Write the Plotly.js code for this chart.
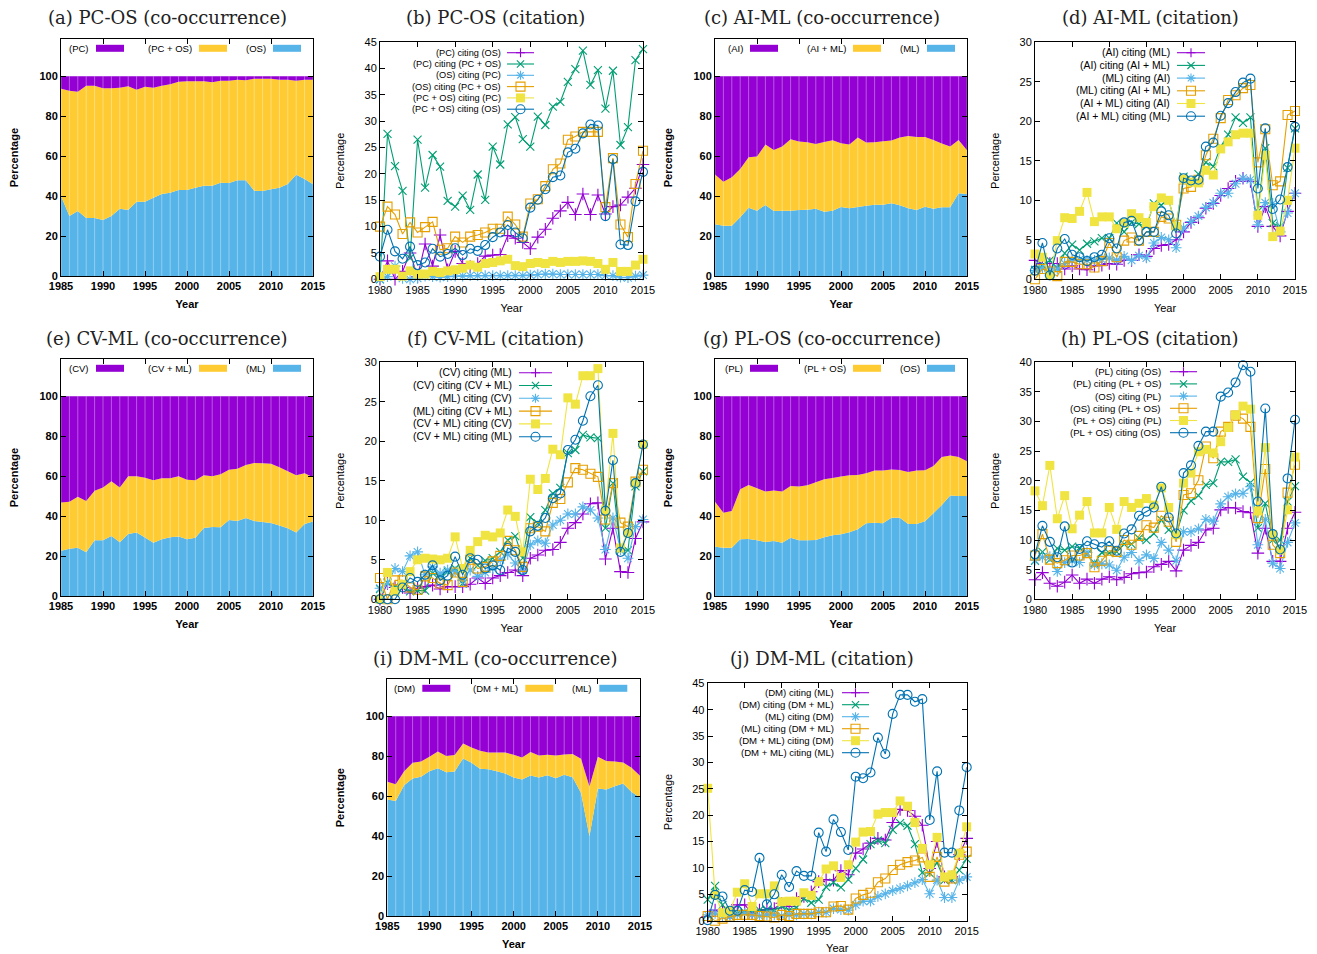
<!DOCTYPE html>
<html><head><meta charset="utf-8">
<script src="https://cdn.plot.ly/plotly-3.0.1.min.js"></script>
<style>html,body{margin:0;padding:0;background:#fff}</style>
</head><body><div id="chart" style="width:1317px;height:954px"></div>
<script>
// ---------------- categories / ticks ----------------
const coYears = [1985,1986,1987,1988,1989,1990,1991,1992,1993,1994,1995,1996,1997,1998,1999,2000,2001,2002,2003,2004,2005,2006,2007,2008,2009,2010,2011,2012,2013,2014,2015];
const citeYears = [1980,1981,1982,1983,1984,1985,1986,1987,1988,1989,1990,1991,1992,1993,1994,1995,1996,1997,1998,1999,2000,2001,2002,2003,2004,2005,2006,2007,2008,2009,2010,2011,2012,2013,2014,2015];
const coXTicks = [1985,1990,1995,2000,2005,2010,2015];
const citeXTicks = [1980,1985,1990,1995,2000,2005,2010,2015];
const coYTicks = [0,20,40,60,80,100];
const yTicks45 = [0,5,10,15,20,25,30,35,40,45];
const yTicks30 = [0,5,10,15,20,25,30];
const yTicks40 = [0,5,10,15,20,25,30,35,40];

// ---------------- (a) PC-OS co-occurrence ----------------
const a_names = ['(PC)','(PC + OS)','(OS)'];
const a_pc   = [6.2,7.2,7.7,4.8,4.7,6,6,5.8,5,6.7,5.3,5.8,4.7,4,2.8,2.5,2.5,2.5,3,2.3,2.2,1.8,2,1.3,1.3,1.3,1.7,1.8,2.2,1.8,1.8];
const a_both = [53.8,62.8,59.8,66.2,66.3,66,64,60.5,62,56.1,57.5,55,54.3,54.3,54.2,54.5,53.3,52.3,51.8,51,51.3,50.3,50.1,56,56.2,55.3,54.1,52.2,47.1,49.7,52.3];
const a_os   = [40,30,32.5,29,29,28,30,33.7,33,37.2,37.2,39.2,41,41.7,43,43,44.2,45.2,45.2,46.7,46.5,47.9,47.9,42.7,42.5,43.4,44.2,46,50.7,48.5,45.9];

// ---------------- (c) AI-ML co-occurrence ----------------
const c_names = ['(AI)','(AI + ML)','(ML)'];
const c_ai   = [49.2,52.8,50.6,46.4,40.6,40.2,34.2,36.9,35.2,31.6,32.7,33.1,33.9,32.9,32.1,33.6,34.2,30.6,33.2,33.1,32.6,32.2,30.7,29.9,30.4,30.4,31.9,33.7,35.2,31.9,37.1];
const c_both = [24.9,22.0,24.2,24.2,25.2,27.1,30.2,30.5,32.1,35.7,34.3,33.7,32.4,34.9,35.2,31.8,31.9,34.8,31.6,31.2,31.7,31.4,33.9,36.2,36.6,34.9,34.4,31.9,30.4,26.7,21.8];
const c_ml   = [25.9,25.2,25.2,29.4,34.2,32.7,35.6,32.6,32.7,32.7,33.0,33.2,33.7,32.2,32.7,34.6,33.9,34.6,35.2,35.7,35.7,36.4,35.4,33.9,33.0,34.7,33.7,34.4,34.4,41.4,41.1];

// ---------------- (e) CV-ML co-occurrence ----------------
const e_names = ['(CV)','(CV + ML)','(ML)'];
const e_cv   = [53.2,52.8,50.3,52.5,47.3,45.7,42.5,45.7,40.1,40.1,40.8,42.1,41.1,41.0,40.1,41.8,42.0,39.5,40.0,39.0,36.8,36.3,34.4,33.4,33.6,33.8,35.6,37.5,39.5,38.6,40.6];
const e_both = [24.1,23.5,25.6,25.6,24.8,26.4,27.4,27.4,28.8,28.1,29.9,31.3,30.5,29.6,30.1,29.8,28.9,26.4,25.4,26.6,25.1,26.1,26.6,29.0,29.4,29.6,29.1,28.6,28.7,25.3,22.1];
const e_ml   = [22.7,23.7,24.1,21.9,27.9,27.9,30.1,26.9,31.1,31.8,29.3,26.6,28.4,29.4,29.8,28.4,29.1,34.1,34.6,34.4,38.1,37.6,39.0,37.6,37.0,36.6,35.3,33.9,31.8,36.1,37.3];

// ---------------- (g) PL-OS co-occurrence ----------------
const g_names = ['(PL)','(PL + OS)','(OS)'];
const g_pl   = [52.8,58.3,57.4,46.6,44.4,46.1,47.7,47.2,47.7,44.9,45.2,44.6,43.1,41.6,40.9,40.2,39.6,39.4,38.6,37.2,37.2,36.7,36.9,37.9,37.2,37.1,34.9,30.4,29.7,30.4,32.6];
const g_both = [22.5,17.5,18.4,25.0,27.1,26.0,25.3,25.3,25.6,25.9,26.9,27.5,28.9,29.0,28.7,28.9,28.5,27.2,25.0,26.1,26.4,24.1,23.9,26.0,26.7,25.5,23.7,24.0,20.0,19.5,17.3];
const g_os   = [24.7,24.2,24.2,28.4,28.5,27.9,27.0,27.5,26.7,29.2,27.9,27.9,28.0,29.4,30.4,30.9,31.9,33.4,36.4,36.7,36.4,39.2,39.2,36.1,36.1,37.4,41.4,45.6,50.3,50.1,50.1];

// ---------------- (i) DM-ML co-occurrence ----------------
const i_names = ['(DM)','(DM + ML)','(ML)'];
const i_dm   = [32.8,34.0,27.5,23.3,22.6,20.3,17.6,19.9,19.4,13.6,15.7,17.3,18.1,18.1,18.1,19.3,20.6,17.9,19.6,19.3,19.6,19.1,18.9,21.3,35.2,20.3,22.4,22.6,23.1,25.8,29.8];
const i_both = [8.9,8.4,7.0,7.9,7.7,7.2,8.4,8.1,8.2,7.5,7.6,9.0,8.4,9.4,10.5,11.4,11.1,11.7,11.1,10.2,11.4,10.2,11.6,17.1,24.9,15.9,14.3,12.4,10.6,12.1,10.9];
const i_ml   = [58.3,57.6,65.5,68.8,69.7,72.5,74.0,72.0,72.4,78.9,76.7,73.7,73.5,72.5,71.4,69.3,68.3,70.4,69.3,70.5,69.0,70.7,69.5,61.6,39.9,63.8,63.3,65.0,66.3,62.1,59.3];

// ---------------- (b) PC-OS citation ----------------
const b_names = ['(PC) citing (OS)','(PC) citing (PC + OS)','(OS) citing (PC)','(OS) citing (PC + OS)','(PC + OS) citing (PC)','(PC + OS) citing (OS)'];
const b_pc_os     = [0,3.5,0,1.5,5.0,0.5,6.7,2.5,8.4,1.8,5.3,3.0,2.4,3.0,4.4,4.6,4.7,8.3,7.8,7.0,5.8,8.0,9.5,11.6,13.0,14.6,12.3,16.2,12.3,16.0,12.4,13.8,14.1,15.6,17.3,21.8];
const b_pc_both   = [0,27.6,21.5,16.8,4.0,26.5,17.4,23.6,21.4,14.9,13.8,15.9,13.2,19.9,15.1,25.2,21.8,29.4,30.8,26.6,25.2,30.9,29.3,32.8,33.7,37.5,39.9,43.4,36.9,39.7,32.4,39.6,25.5,28.9,41.6,43.7];
const b_os_pc     = [0,0.5,2.5,0.2,0,0.2,0.6,0.5,0.4,0.5,0.6,0.6,0.7,0.7,0.7,0.7,0.7,0.7,0.7,0.7,0.8,0.9,1.0,1.0,0.9,0.9,0.9,0.9,0.9,0.9,0.7,0.7,0.4,0.3,0.6,0.8];
const b_os_both   = [10.0,13.8,12.3,8.6,10.8,8.9,9.9,10.9,5.6,5.9,8.1,7.0,8.1,8.4,8.9,9.6,9.6,11.9,10.4,8.1,14.4,15.2,17.7,20.9,22.0,26.5,27.1,28.0,28.0,28.0,13.7,23.0,10.4,8.0,18.1,24.4];
const b_both_pc   = [0.5,1.9,1.9,0.6,1.6,1.0,1.0,1.5,1.3,1.6,1.8,2.1,2.7,2.3,3.0,3.2,3.5,3.8,2.6,2.4,3.0,3.2,3.0,3.4,3.2,3.4,3.4,3.5,3.4,3.0,1.9,3.2,1.5,1.5,2.7,3.8];
const b_both_os   = [4.3,9.4,5.3,3.9,6.2,2.7,3.2,5.8,4.3,4.8,5.9,4.6,5.8,5.4,6.5,8.0,8.9,10.3,8.9,7.8,13.6,15.1,17.1,19.4,19.7,24.1,24.8,27.7,29.4,29.2,12.0,22.8,6.6,6.5,14.8,20.4];

// ---------------- (d) AI-ML citation ----------------
const d_names = ['(AI) citing (ML)','(AI) citing (AI + ML)','(ML) citing (AI)','(ML) citing (AI + ML)','(AI + ML) citing (AI)','(AI + ML) citing (ML)'];
const d_ai_ml     = [2.4,2.0,2.0,2.0,1.3,1.7,1.3,1.2,1.7,1.8,2.0,1.9,2.4,2.4,3.1,2.9,3.9,4.3,4.4,5.0,6.0,7.2,7.8,9.0,9.6,10.6,11.5,12.4,12.8,12.4,6.7,9.2,6.7,5.5,8.6,10.9];
const d_ai_both   = [1.2,1.8,2.4,1.4,3.3,4.4,3.7,4.5,4.8,5.2,5.2,7.1,6.0,7.2,7.0,6.7,9.6,9.4,10.0,6.7,13.0,12.6,13.3,14.8,14.3,16.8,18.3,20.5,19.8,20.5,8.6,16.6,7.1,6.7,14.1,19.1];
const d_ml_ai     = [1.1,1.4,1.0,1.3,2.0,2.4,2.5,2.4,2.4,2.5,2.7,2.4,2.9,2.4,3.0,2.7,4.6,5.3,5.0,4.0,6.5,7.3,8.0,9.1,9.7,10.9,10.9,12.1,12.8,12.6,6.9,9.7,9.6,6.0,8.4,10.9];
const d_ml_both   = [0,1.3,1.0,0.4,2.2,2.2,1.9,1.9,1.5,2.3,4.6,2.8,4.9,5.3,4.9,6.0,6.0,7.9,7.7,6.9,11.5,11.7,12.6,15.7,17.8,20.4,22.7,23.3,24.2,24.6,14.8,19.0,11.9,12.4,20.8,21.3];
const d_both_ai   = [3.2,2.8,0.5,4.9,7.8,7.7,8.6,11.0,7.3,7.9,7.9,6.4,7.1,8.3,7.8,7.2,9.2,10.3,10.0,6.7,12.7,12.3,12.2,13.8,13.2,16.5,17.4,18.3,18.5,18.5,8.1,15.7,5.4,6.1,10.0,16.6];
const d_both_ml   = [1.1,4.6,0.5,3.9,5.1,3.1,2.8,2.3,2.8,3.1,5.2,3.9,7.2,7.4,4.9,6.0,6.0,8.6,8.1,5.8,12.8,12.5,12.6,16.8,17.3,20.7,22.3,23.7,24.9,25.4,11.5,19.1,8.9,10.1,14.2,19.3];

// ---------------- (f) CV-ML citation ----------------
const f_names = ['(CV) citing (ML)','(CV) citing (CV + ML)','(ML) citing (CV)','(ML) citing (CV + ML)','(CV + ML) citing (CV)','(CV + ML) citing (ML)'];
const f_cv_ml     = [0,2.0,1.5,1.5,0.8,1.4,1.6,1.8,1.3,1.6,1.6,1.6,1.9,2.7,2.0,2.7,3.0,3.4,3.7,3.0,5.2,5.6,6.2,6.3,7.2,9.0,9.7,10.8,12.1,12.2,5.1,9.0,3.5,3.4,7.7,9.8];
const f_cv_both   = [1.3,2.1,1.6,1.5,1.0,1.1,1.1,3.3,3.0,3.5,3.9,2.0,5.2,4.3,4.9,5.2,6.0,7.5,8.0,5.2,10.4,9.6,11.3,13.4,14.1,18.5,18.9,20.8,20.5,20.4,9.0,14.7,6.2,6.2,14.3,16.2];
const f_ml_cv     = [1.4,2.0,3.9,3.5,5.5,6.0,3.1,4.1,3.3,3.7,3.5,2.4,3.7,2.9,3.4,3.9,5.0,5.7,4.6,3.7,6.9,7.4,7.1,9.4,10.0,10.8,10.8,11.7,11.3,10.3,6.3,10.3,6.3,5.2,9.2,10.1];
const f_ml_both   = [2.7,0,2.4,2.4,1.5,1.2,2.9,2.7,2.0,1.8,3.4,2.2,5.0,3.9,4.1,4.8,5.5,7.4,6.2,4.1,9.0,9.2,8.6,12.2,12.7,14.8,16.6,16.4,15.9,15.5,10.1,14.7,9.7,9.2,14.9,16.4];
const f_both_cv   = [0,3.4,1.0,1.9,3.5,5.0,5.2,5.1,5.0,5.2,7.9,3.9,6.2,7.3,8.1,7.9,8.4,11.3,10.5,6.0,15.2,13.9,15.3,19.0,18.3,25.5,24.7,28.3,28.3,29.2,11.3,21.0,6.5,8.4,14.7,19.6];
const f_both_ml   = [0,0,0,1.5,2.7,2.2,3.1,4.3,2.4,3.0,5.4,3.1,5.2,5.0,3.9,4.3,3.7,6.5,6.0,3.7,8.6,9.3,10.3,12.8,13.4,18.9,20.2,22.6,25.7,27.1,11.2,17.6,6.0,8.4,14.7,19.6];

// ---------------- (h) PL-OS citation ----------------
const h_names = ['(PL) citing (OS)','(PL) citing (PL + OS)','(OS) citing (PL)','(OS) citing (PL + OS)','(PL + OS) citing (PL)','(PL + OS) citing (OS)'];
const h_pl_os     = [3.3,4.5,2.7,2.2,2.9,4.1,2.7,3.4,2.7,3.4,3.8,3.3,3.7,4.3,4.5,4.6,5.5,5.9,6.4,4.8,8.3,9.1,9.6,11.7,12.0,15.1,15.5,15.4,14.8,14.6,7.8,12.0,6.4,6.4,12.0,14.7];
const h_pl_both   = [6.5,8.0,6.7,8.6,8.3,8.9,8.7,7.6,6.1,7.9,7.8,8.0,9.3,9.3,10.3,10.0,11.1,13.4,11.7,10.9,15.0,16.6,17.5,19.3,19.6,23.2,23.2,23.6,20.7,19.7,12.0,16.2,10.0,10.0,16.5,19.1];
const h_os_pl     = [6.6,7.1,7.2,4.7,6.2,6.5,6.2,7.9,5.8,6.0,5.8,4.9,7.1,7.9,6.5,7.5,6.9,9.6,8.3,6.5,11.4,11.4,11.9,13.5,13.2,16.1,17.3,17.8,17.9,19.0,9.2,13.5,6.1,5.2,9.6,12.9];
const h_os_both   = [7.4,11.0,6.7,6.1,6.6,7.4,7.4,7.8,5.4,6.5,8.2,8.0,10.0,9.2,10.7,12.5,12.1,14.1,13.1,9.7,17.6,17.9,20.1,25.8,23.8,28.3,29.1,31.0,30.5,29.1,13.7,22.0,9.2,7.8,18.0,22.7];
const h_both_pl   = [18.3,15.8,22.6,13.6,17.5,11.9,14.2,16.5,11.2,11.2,15.5,11.8,16.5,15.5,16.2,17.0,15.9,18.8,15.5,10.9,19.6,21.3,24.9,25.3,24.7,26.6,29.0,31.1,32.6,32.1,14.9,25.6,10.9,8.3,15.1,24.0];
const h_both_os   = [7.6,12.4,9.7,7.1,12.3,6.2,8.5,9.8,9.3,8.8,9.8,8.2,11.1,11.8,14.1,14.8,15.5,19.0,13.8,11.1,21.3,22.6,25.9,28.3,28.3,34.2,34.9,36.6,39.5,38.4,16.5,32.2,11.0,8.4,20.4,30.3];

// ---------------- (j) DM-ML citation ----------------
const j_names = ['(DM) citing (ML)','(DM) citing (DM + ML)','(ML) citing (DM)','(ML) citing (DM + ML)','(DM + ML) citing (DM)','(DM + ML) citing (ML)'];
const j_dm_ml     = [0.8,2.0,1.7,1.4,3.0,3.0,1.4,2.0,2.1,2.3,3.3,2.7,4.2,4.6,5.5,7.4,7.8,7.7,9.5,8.7,12.8,13.6,14.7,15.6,15.3,18.6,21.1,20.9,19.8,18.1,9.9,15.0,8.3,8.3,12.5,15.6];
const j_dm_both   = [4.0,6.6,3.0,0.8,1.4,1.6,1.9,2.0,2.1,2.0,2.7,2.0,2.5,4.2,3.4,4.0,6.4,7.2,6.3,7.8,9.9,11.6,14.5,15.2,14.7,17.2,18.5,18.0,14.5,9.1,9.0,11.0,7.7,7.7,9.6,11.7];
const j_ml_dm     = [1.1,1.4,0.8,0.8,1.1,1.4,1.1,0.9,1.1,1.1,0.9,1.1,1.1,1.3,1.3,1.6,1.6,2.3,2.1,2.0,3.0,3.7,3.7,4.6,5.1,5.7,6.1,6.6,7.2,7.8,5.1,7.7,4.4,4.4,7.7,8.3];
const j_ml_both   = [0.9,0,0.4,0.8,1.1,1.1,1.1,0.9,0.8,0.6,1.1,0.9,1.3,1.3,1.3,1.6,1.6,2.7,2.8,2.1,4.2,4.9,5.3,7.3,8.0,9.6,10.6,11.1,11.4,12.0,8.3,12.1,7.4,8.0,12.5,13.1];
const j_both_dm   = [25.1,4.9,1.5,1.9,5.4,7.0,2.7,5.1,5.1,6.6,3.6,3.7,3.7,5.3,4.8,7.4,9.8,10.4,8.2,10.6,14.9,16.8,16.9,20.2,20.5,20.5,22.7,21.7,18.6,13.7,10.6,15.8,8.3,8.7,12.8,17.8];
const j_both_ml   = [0.1,4.9,4.6,1.9,1.9,5.8,5.5,11.9,3.1,5.0,8.7,6.4,9.4,8.5,8.5,16.7,13.1,19.2,16.8,13.4,27.3,27.0,28.1,34.7,31.6,39.2,42.8,42.8,41.5,42.0,19.1,28.3,12.9,12.9,20.9,29.1];

// ---------------- styling / layout config ----------------
const W = 1317, H = 954;
const SANS = 'Liberation Sans, Arial, Helvetica, sans-serif';
const SERIF = 'DejaVu Serif, serif';
const CO_COLORS = ['#9400D3', '#FFCB33', '#56B4E9']; // top, middle, bottom
const LINE_STYLE = [
  {color:'#9400D3', symbol:'cross-thin-open', size:9},
  {color:'#009E73', symbol:'x-thin-open', size:8},
  {color:'#56B4E9', symbol:'asterisk-open', size:9},
  {color:'#E69F00', symbol:'square-open', size:9},
  {color:'#F0E442', symbol:'square', size:9},
  {color:'#0072B2', symbol:'circle-open', size:9}
];

const panels = [
  {kind:'co', title:'(a) PC-OS (co-occurrence)', box:[61,39.3,313,276], tx:167, ty:17, names:a_names, series:[a_pc,a_both,a_os]},
  {kind:'cite', title:'(b) PC-OS (citation)', box:[380,42.3,643,279.3], tx:495, ty:17, ymax:45, yt:yTicks45, names:b_names,
   series:[b_pc_os,b_pc_both,b_os_pc,b_os_both,b_both_pc,b_both_os], leg:{tr:503, lx0:507, lx1:534, y0:52.7, dy:11.3, fs:9.2}},
  {kind:'co', title:'(c) AI-ML (co-occurrence)', box:[715,39.3,967,276], tx:822, ty:17, names:c_names, series:[c_ai,c_both,c_ml]},
  {kind:'cite', title:'(d) AI-ML (citation)', box:[1035,42.3,1295,279.3], tx:1150, ty:17, ymax:30, yt:yTicks30, names:d_names,
   series:[d_ai_ml,d_ai_both,d_ml_ai,d_ml_both,d_both_ai,d_both_ml], leg:{tr:1172, lx0:1177, lx1:1205, y0:52.7, dy:12.7, fs:10.4}},
  {kind:'co', title:'(e) CV-ML (co-occurrence)', box:[61,359.3,313,596], tx:167, ty:338, names:e_names, series:[e_cv,e_both,e_ml]},
  {kind:'cite', title:'(f) CV-ML (citation)', box:[380,362.3,643,599.3], tx:495, ty:338, ymax:30, yt:yTicks30, names:f_names,
   series:[f_cv_ml,f_cv_both,f_ml_cv,f_ml_both,f_both_cv,f_both_ml], leg:{tr:514, lx0:519, lx1:552, y0:372.7, dy:12.8, fs:10.4}},
  {kind:'co', title:'(g) PL-OS (co-occurrence)', box:[715,359.3,967,596], tx:822, ty:338, names:g_names, series:[g_pl,g_both,g_os]},
  {kind:'cite', title:'(h) PL-OS (citation)', box:[1035,362.3,1295,599.3], tx:1150, ty:338, ymax:40, yt:yTicks40, names:h_names,
   series:[h_pl_os,h_pl_both,h_os_pl,h_os_both,h_both_pl,h_both_os], leg:{tr:1163, lx0:1170, lx1:1197, y0:371.7, dy:12.2, fs:9.6}},
  {kind:'co', title:'(i) DM-ML (co-occurrence)', box:[387.3,679.3,640,916], tx:495, ty:658, names:i_names, series:[i_dm,i_both,i_ml]},
  {kind:'cite', title:'(j) DM-ML (citation)', box:[707.7,683.3,966.7,920.7], tx:822, ty:658, ymax:45, yt:yTicks45, names:j_names,
   series:[j_dm_ml,j_dm_both,j_ml_dm,j_ml_both,j_both_dm,j_both_ml], leg:{tr:836, lx0:842, lx1:869, y0:692.7, dy:12.0, fs:9.6}}
];

const PX = v => v / W, PY = v => 1 - v / H;
const data = [], annotations = [], shapes = [];
const layout = {width:W, height:H, margin:{l:0,r:0,t:0,b:0}, showlegend:false,
  paper_bgcolor:'#ffffff', plot_bgcolor:'#ffffff', font:{family:SANS, color:'#000'}};

function markerShape(style, cx, cy) {
  const base = {xref:'paper', yref:'paper', xsizemode:'pixel', ysizemode:'pixel',
    xanchor:PX(cx), yanchor:PY(cy), line:{color:style.color, width:1.1}};
  const r = 4.5;
  switch(style.symbol) {
    case 'cross-thin-open': return Object.assign(base, {type:'path', path:`M-${r},0H${r}M0,-${r}V${r}`});
    case 'x-thin-open': return Object.assign(base, {type:'path', path:`M-3.6,-3.6L3.6,3.6M-3.6,3.6L3.6,-3.6`});
    case 'asterisk-open': return Object.assign(base, {type:'path', path:`M-${r},0H${r}M0,-${r}V${r}M-3.2,-3.2L3.2,3.2M-3.2,3.2L3.2,-3.2`});
    case 'square-open': return Object.assign(base, {type:'rect', x0:-r, x1:r, y0:-r, y1:r, fillcolor:'rgba(0,0,0,0)'});
    case 'square': return Object.assign(base, {type:'rect', x0:-r, x1:r, y0:-r, y1:r, fillcolor:style.color, line:{width:0}});
    default: return Object.assign(base, {type:'circle', x0:-r, x1:r, y0:-r, y1:r, fillcolor:'rgba(0,0,0,0)'});
  }
}

panels.forEach((p, k) => {
  const n = k + 1, sfx = n === 1 ? '' : String(n);
  const xa = 'x' + sfx, ya = 'y' + sfx;
  const [L, T, R, B] = p.box;
  const co = p.kind === 'co';
  const tf = {family:SANS, size:11, color:'#000', weight: co ? 'bold' : 'normal'};
  const axCommon = {ticks:'inside', ticklen:5, tickwidth:1, tickcolor:'#000', showline:true, linecolor:'#000',
    linewidth:1, mirror:'ticks', showgrid:false, zeroline:false, tickfont:tf, fixedrange:true};
  layout['xaxis' + sfx] = Object.assign({}, axCommon, {domain:[PX(L), PX(R)], anchor:ya,
    range: co ? [1985, 2015] : [1980, 2015], tickmode:'array', tickvals: co ? coXTicks : citeXTicks,
    title:{text:'Year', font:tf, standoff:9}});
  layout['yaxis' + sfx] = Object.assign({}, axCommon, {domain:[PY(B), PY(T)], anchor:xa,
    range: co ? [0, 118.5] : [0, p.ymax], tickmode:'array', tickvals: co ? coYTicks : p.yt,
    title:{text:'Percentage', font:tf, standoff: co ? 18 : 17}});

  annotations.push({xref:'paper', yref:'paper', x:PX(p.tx), y:PY(p.ty), xanchor:'center', yanchor:'middle',
    showarrow:false, text:p.title, font:{family:SERIF, size:18, color:'#222'}});

  if (co) {
    // stacked areas: bottom series first
    for (let s = 2; s >= 0; s--) {
      data.push({type:'scatter', x:coYears, y:p.series[s], xaxis:xa, yaxis:ya, stackgroup:'st' + n,
        mode:'none', fillcolor:CO_COLORS[s], line:{width:0}, name:p.names[s], hoverinfo:'skip'});
    }
    // faint white seams at each year (gnuplot rendering look)
    const sx = [], sy = [];
    coYears.forEach(yr => { sx.push(yr, yr, null); sy.push(0, 100, null); });
    data.push({type:'scatter', x:sx, y:sy, xaxis:xa, yaxis:ya, mode:'lines',
      line:{color:'rgba(255,255,255,0.35)', width:1}, hoverinfo:'skip', showlegend:false});
    // legend row
    const offs = [35, 138, 212];
    const ly = T + 9;
    p.names.forEach((nm, s) => {
      shapes.push({type:'rect', xref:'paper', yref:'paper', x0:PX(L + offs[s]), x1:PX(L + offs[s] + 28),
        y0:PY(ly + 3.5), y1:PY(ly - 3.5), fillcolor:CO_COLORS[s], line:{width:0}});
      annotations.push({xref:'paper', yref:'paper', x:PX(L + offs[s] - 5), y:PY(ly), xanchor:'right', yanchor:'middle',
        showarrow:false, text:nm, font:{family:SANS, size:9.5, color:'#000'}});
    });
  } else {
    p.series.forEach((vals, s) => {
      const st = LINE_STYLE[s];
      data.push({type:'scatter', x:citeYears, y:vals, xaxis:xa, yaxis:ya, mode:'lines+markers', name:p.names[s],
        cliponaxis:false, line:{color:st.color, width:1.1},
        marker:{symbol:st.symbol, size:st.size, color:st.color,
          line:{color:st.color, width: st.symbol === 'square' ? 0 : 1.1}}, hoverinfo:'skip'});
    });
    const lg = p.leg;
    p.names.forEach((nm, s) => {
      const st = LINE_STYLE[s];
      const yy = lg.y0 + s * lg.dy;
      annotations.push({xref:'paper', yref:'paper', x:PX(lg.tr), y:PY(yy), xanchor:'right', yanchor:'middle',
        showarrow:false, text:nm, font:{family:SANS, size:lg.fs, color:'#000'}});
      shapes.push({type:'line', xref:'paper', yref:'paper', x0:PX(lg.lx0), x1:PX(lg.lx1), y0:PY(yy), y1:PY(yy),
        line:{color:st.color, width:1.1}});
      shapes.push(markerShape(st, (lg.lx0 + lg.lx1) / 2, yy));
    });
  }
});

layout.annotations = annotations;
layout.shapes = shapes;
Plotly.newPlot('chart', data, layout, {displayModeBar:false, staticPlot:true});
</script>
</body></html>
